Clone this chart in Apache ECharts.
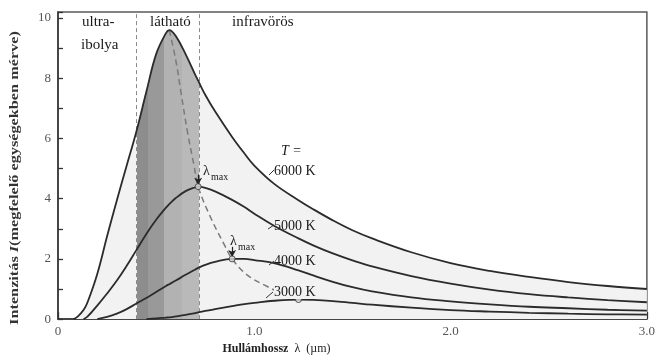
<!DOCTYPE html>
<html>
<head>
<meta charset="utf-8">
<script src="https://cdn.jsdelivr.net/npm/echarts@6/dist/echarts.min.js"></script>
<style>
  html, body { margin: 0; background: #fff; }
  #chart { width: 658px; height: 360px; }
</style>
</head>
<body>
<div id="chart"></div>
<script>
// hullámhossz (µm) – közös mintavétel a görbékhez
const wavelengths = [0.08, 0.1, 0.13, 0.15, 0.2, 0.25, 0.3, 0.35, 0.4, 0.45, 0.5, 0.55, 0.567, 0.6, 0.65, 0.7, 0.714, 0.75, 0.8, 0.887, 0.95, 1.0, 1.1, 1.225, 1.3, 1.4, 1.5, 1.6, 1.8, 2.0, 2.2, 2.4, 2.6, 2.8, 3.0]
// intenzitás (null = a görbe még nem indult el)
const t6000 = [0, 0.08, 0.3, 0.55, 1.5, 2.75, 3.95, 5.1, 6.25, 7.55, 8.8, 9.5, 9.6, 9.4, 8.8, 8.1, 7.92, 7.45, 6.9, 6.05, 5.5, 5.1, 4.5, 3.95, 3.65, 3.28, 2.95, 2.68, 2.22, 1.86, 1.6, 1.4, 1.23, 1.1, 1.0]
const t5000 = [null, null, 0, 0.08, 0.45, 0.85, 1.28, 1.77, 2.3, 2.83, 3.3, 3.7, 3.82, 4.02, 4.25, 4.38, 4.4, 4.36, 4.24, 3.96, 3.72, 3.5, 3.1, 2.68, 2.45, 2.18, 1.95, 1.75, 1.43, 1.18, 0.98, 0.83, 0.72, 0.63, 0.56]
const t4000 = [null, null, null, null, 0, 0.07, 0.18, 0.33, 0.52, 0.7, 0.9, 1.1, 1.16, 1.28, 1.47, 1.65, 1.7, 1.8, 1.9, 2.0, 2.0, 1.96, 1.86, 1.62, 1.45, 1.24, 1.06, 0.92, 0.72, 0.59, 0.49, 0.41, 0.36, 0.31, 0.28]
const t3000 = [null, null, null, null, null, null, null, null, null, 0, 0.02, 0.05, 0.06, 0.09, 0.14, 0.2, 0.22, 0.27, 0.33, 0.43, 0.5, 0.54, 0.61, 0.65, 0.64, 0.6, 0.54, 0.48, 0.38, 0.3, 0.25, 0.21, 0.18, 0.16, 0.15]

// λmax görbe (szaggatott)
const wienLambda = [0.567, 0.6, 0.626, 0.66, 0.693, 0.714, 0.778, 0.845, 0.887, 0.963, 1.064, 1.15, 1.225]
const wienIntensity = [9.6, 8.6, 7.55, 6.2, 5.1, 4.4, 3.37, 2.5, 2.0, 1.47, 1.09, 0.83, 0.65]

// csúcsok: 6000, 5000, 4000, 3000 K
const peakLambda = [0.567, 0.714, 0.887, 1.225]
const peakIntensity = [9.6, 4.4, 2.0, 0.65]

// tartományok határai
const visibleFrom = 0.4
const visibleTo = 0.72

const serif = 'Liberation Serif'
const curveColor = '#2b2b2b'
const textColor = '#1a1a1a'

function pairs(values) {
  return wavelengths.map((l, i) => [l, values[i]]).filter(p => p[1] !== null)
}

function curve(name, values) {
  return {
    name,
    type: 'line',
    data: pairs(values),
    smooth: 0.4,
    symbol: 'none',
    silent: true,
    z: 5,
    lineStyle: { color: curveColor, width: 1.8 },
  }
}

function label(text, left, top, font, extra) {
  return { type: 'text', left, top, z: 100, style: Object.assign({ text, font: font || `14px "${serif}"`, fill: textColor }, extra) }
}

function leader(x1, y1, x2, y2) {
  return { type: 'line', z: 100, shape: { x1, y1, x2, y2 }, style: { stroke: '#333', lineWidth: 1 } }
}

const chart = echarts.init(document.getElementById('chart'))

chart.setOption({
  animation: false,
  grid: {
    left: 58,
    right: 7,
    top: 12,
    bottom: 34,
    show: true,
    borderColor: '#5a5a5a',
    borderWidth: 1.5,
  },
  xAxis: {
    type: 'value',
    min: 0,
    max: 3,
    interval: 0.5,
    name: '{b|Hullámhossz}  λ  (µm)',
    nameLocation: 'middle',
    nameGap: 20,
    nameTextStyle: {
      fontFamily: serif,
      fontSize: 12,
      color: '#222',
      padding: [0, 152, 0, 0],
      rich: { b: { fontFamily: serif, fontSize: 12, fontWeight: 'bold', color: '#222' } },
    },
    axisLine: { lineStyle: { color: '#333', width: 1.5 } },
    axisTick: { inside: true, length: 7, lineStyle: { color: '#333', width: 1.3 } },
    minorTick: { show: true, splitNumber: 5, length: 3, lineStyle: { color: '#333', width: 1.2 } },
    axisLabel: {
      fontFamily: serif,
      fontSize: 13,
      color: '#555',
      margin: 6,
      formatter: v => (v === 0 ? '0' : (Number.isInteger(v) ? v.toFixed(1) : '')),
    },
    splitLine: { show: false },
  },
  yAxis: {
    type: 'value',
    min: 0,
    max: 10.2,
    interval: 1,
    axisLine: { lineStyle: { color: '#333', width: 1.5 } },
    axisTick: { inside: true, length: 5, lineStyle: { color: '#333', width: 1.3 } },
    axisLabel: {
      fontFamily: serif,
      fontSize: 13,
      color: '#555',
      margin: 7,
      formatter: v => (v % 2 === 0 && v <= 10 ? String(v) : ''),
    },
    splitLine: { show: false },
  },
  visualMap: {
    show: false,
    type: 'piecewise',
    seriesIndex: 1,
    dimension: 0,
    pieces: [
      { lt: visibleFrom, color: '#f2f2f2' },
      { gte: visibleFrom, lt: 0.46, color: '#8d8d8d' },
      { gte: 0.46, lt: 0.54, color: '#999999' },
      { gte: 0.54, lt: 0.63, color: '#b2b2b2' },
      { gte: 0.63, lt: visibleTo, color: '#b9b9b9' },
      { gte: visibleTo, color: '#f2f2f2' },
    ],
  },
  series: [
    // tartományhatárok (a kitöltés alatt)
    {
      name: 'határok',
      type: 'line',
      data: [],
      silent: true,
      z: 0,
      markLine: {
        silent: true,
        symbol: 'none',
        label: { show: false },
        lineStyle: { color: '#8a8a8a', type: [4, 3], width: 1 },
        data: [{ xAxis: visibleFrom }, { xAxis: visibleTo }],
      },
    },
    // a 6000 K görbe alatti kitöltés (látható tartomány sávokkal)
    {
      name: 'kitöltés',
      type: 'line',
      data: pairs(t6000),
      smooth: 0.4,
      symbol: 'none',
      silent: true,
      z: 1,
      lineStyle: { width: 0 },
      areaStyle: { opacity: 1 },
    },
    curve('6000 K', t6000),
    curve('5000 K', t5000),
    curve('4000 K', t4000),
    curve('3000 K', t3000),
    {
      name: 'λmax',
      type: 'line',
      data: wienLambda.map((l, i) => [l, wienIntensity[i]]),
      smooth: 0.4,
      symbol: 'none',
      silent: true,
      z: 4,
      lineStyle: { color: '#7a7a7a', width: 1.5, type: [6, 4] },
    },
    {
      name: 'csúcsok',
      type: 'scatter',
      data: peakLambda.slice(1).map((l, i) => [l, peakIntensity[i + 1]]),
      symbol: 'circle',
      symbolSize: 6,
      silent: true,
      z: 6,
      itemStyle: { color: '#d8d8d8', borderColor: '#333', borderWidth: 1 },
      markLine: {
        silent: true,
        symbol: ['none', 'arrow'],
        symbolSize: [6, 7],
        label: { show: false },
        lineStyle: { color: '#222', type: 'solid', width: 1.2 },
        data: [1, 2].map(k => [
          { coord: [peakLambda[k], peakIntensity[k] + 0.4] },
          { coord: [peakLambda[k], peakIntensity[k] + 0.06] },
        ]),
      },
    },
  ],
  graphic: [
    // függőleges tengelycím, kissé megnyújtva mint az eredetin
    {
      type: 'text',
      x: 15,
      y: 178,
      rotation: Math.PI / 2,
      scaleX: 1.25,
      z: 100,
      style: {
        text: '{n|Intenzitás }{i|I}{n|(megfelelő egységekben mérve)}',
        align: 'center',
        verticalAlign: 'middle',
        rich: {
          n: { font: `bold 13px "${serif}"`, fill: '#333' },
          i: { font: `italic bold 13px "${serif}"`, fill: '#333' },
        },
      },
    },
    label('ultra-', 82, 15, `15px "${serif}"`),
    label('ibolya', 81, 38, `15px "${serif}"`),
    label('látható', 150, 15, `15px "${serif}"`),
    label('infravörös', 232, 15, `15px "${serif}"`),
    label('T =', 281, 144, `italic 14px "${serif}"`),
    label('6000 K', 274, 164),
    label('5000 K', 274, 219),
    label('4000 K', 274, 254),
    label('3000 K', 274, 285, null, { backgroundColor: '#f2f2f2' }),
    label('λ', 203, 164),
    label('max', 211, 172, `10px "${serif}"`),
    label('λ', 230, 234),
    label('max', 238, 242, `10px "${serif}"`),
    // rövid vezetővonalak a hőmérséklet feliratokhoz
    leader(269, 175, 274, 170),
    leader(268, 229, 274, 225),
    leader(269, 265, 274, 261),
    leader(266, 298, 273, 292),
  ],
})
</script>
</body>
</html>
